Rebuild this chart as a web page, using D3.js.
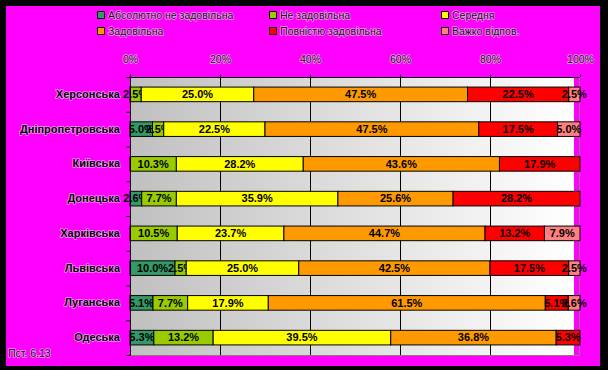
<!DOCTYPE html>
<html>
<head>
<meta charset="utf-8">
<script src="https://cdn.jsdelivr.net/npm/d3@7"></script>
<style>
  body { margin: 0; background: #000; }
  svg { display: block; }
  text { font-family: Arial, "Liberation Sans", sans-serif; }
  .halo { paint-order: stroke; stroke: rgba(255,255,255,0.55); stroke-width: 1.6px; stroke-linejoin: round; }
</style>
</head>
<body>
<div id="chart"></div>
<script>
const regions = ['Херсонська', 'Дніпропетровська', 'Київська', 'Донецька',
  'Харківська', 'Львівська', 'Луганська', 'Одеська'];
const seriesNames = ['Абсолютно не задовільна', 'Не задовільна', 'Середня',
  'Задовільна', 'Повністю задовільна', 'Важко відпов.'];
const seriesColors = ['#339966', '#99cc00', '#ffff00', '#ff9900', '#ff0000', '#ff8080'];

const absNot = [0, 5.0, 0, 2.6, 0, 10.0, 5.1, 5.3];
const notSat = [2.5, 2.5, 10.3, 7.7, 10.5, 2.5, 7.7, 13.2];
const middle = [25.0, 22.5, 28.2, 35.9, 23.7, 25.0, 17.9, 39.5];
const sat = [47.5, 47.5, 43.6, 25.6, 44.7, 42.5, 61.5, 36.8];
const fullSat = [22.5, 17.5, 17.9, 28.2, 13.2, 17.5, 5.1, 5.3];
const hard = [2.5, 5.0, 0, 0, 7.9, 2.5, 2.6, 0];
const tickValues = [0, 0.2, 0.4, 0.6, 0.8, 1];
const note = 'Пст. 6.13';

const allSeries = [absNot, notSat, middle, sat, fullSat, hard];
const rows = regions.map((r, i) => {
  const o = { region: r };
  seriesNames.forEach((k, j) => { o[k] = allSeries[j][i]; });
  return o;
});

const width = 608;
const height = 370;
const plot = { left: 130, right: 580, top: 77, bottom: 355 };

const svg = d3.select('#chart')
  .append('svg')
  .attr('width', width)
  .attr('height', height);

svg.append('rect')
  .attr('x', 6).attr('y', 6)
  .attr('width', 594).attr('height', 360)
  .attr('fill', '#ff00ff');

const grad = svg.append('defs').append('linearGradient')
  .attr('id', 'bg').attr('x1', '0%').attr('x2', '100%');
grad.append('stop').attr('offset', '0%').attr('stop-color', '#c0c0c0');
grad.append('stop').attr('offset', '100%').attr('stop-color', '#ffffff');

const x = d3.scaleLinear()
  .domain([0, 1])
  .range([plot.left, plot.right]);

const y = d3.scaleBand()
  .domain(regions)
  .range([plot.top, plot.bottom])
  .paddingInner(0.58)
  .paddingOuter(0.29);

// plot background
svg.append('rect')
  .attr('x', plot.left).attr('y', plot.top)
  .attr('width', 444).attr('height', plot.bottom - plot.top)
  .attr('fill', 'url(#bg)');

svg.append('path')
  .attr('d', `M${plot.right - 0.5},${plot.top}V${plot.bottom + 0.5}H${plot.left}`)
  .attr('fill', 'none')
  .attr('stroke', '#808080');

// gridlines
svg.append('g')
  .selectAll('line')
  .data(tickValues.slice(1, -1))
  .join('line')
    .attr('x1', d => Math.round(x(d)) + 0.5)
    .attr('x2', d => Math.round(x(d)) + 0.5)
    .attr('y1', plot.top)
    .attr('y2', plot.bottom)
    .attr('stroke', '#000');

const stack = d3.stack()
  .keys(seriesNames)
  .offset(d3.stackOffsetExpand);
const layers = stack(rows);

const bars = svg.append('g')
  .selectAll('g')
  .data(layers)
  .join('g')
    .attr('fill', (d, i) => seriesColors[i]);

bars.selectAll('rect')
  .data(d => d.filter(s => s[1] - s[0] > 0))
  .join('rect')
    .attr('x', d => x(d[0]))
    .attr('y', d => y(d.data.region))
    .attr('width', d => x(d[1]) - x(d[0]))
    .attr('height', y.bandwidth())
    .attr('stroke', '#000')
    .attr('stroke-width', 1);

bars.selectAll('text')
  .data(d => d.filter(s => s[1] - s[0] > 0).map(s => ({ s, key: d.key })))
  .join('text')
    .attr('x', d => x((d.s[0] + d.s[1]) / 2))
    .attr('y', d => y(d.s.data.region) + y.bandwidth() / 2)
    .attr('dy', '0.35em')
    .attr('text-anchor', 'middle')
    .attr('fill', '#000')
    .attr('font-size', 11)
    .attr('font-weight', 'bold')
    .text(d => d.s.data[d.key].toFixed(1) + '%');

// top axis
svg.append('g')
  .attr('transform', `translate(0,${plot.top})`)
  .call(d3.axisTop(x).tickValues(tickValues).tickFormat(d3.format('.0%')).tickSize(3).tickPadding(11))
  .call(g => g.select('.domain').attr('stroke', '#000').attr('d', `M${plot.left},0.5H${plot.right}`))
  .call(g => g.selectAll('.tick line').attr('stroke', '#000'))
  .call(g => g.selectAll('.tick text')
    .attr('class', 'halo')
    .attr('fill', '#111')
    .attr('font-size', 10.5)
    .attr('font-family', 'Arial, "Liberation Sans", sans-serif'));

// left axis ticks between bands
const yIdx = d3.scaleLinear().domain([0, regions.length]).range([plot.top, plot.bottom]);
svg.append('g')
  .attr('transform', `translate(${plot.left},0)`)
  .call(d3.axisLeft(yIdx).tickValues(d3.range(regions.length + 1)).tickFormat('').tickSize(4))
  .call(g => g.selectAll('path, line').attr('stroke', '#000'));

// category labels
svg.append('g')
  .attr('transform', `translate(${plot.left},0)`)
  .call(d3.axisLeft(y).tickSize(0).tickPadding(10))
  .call(g => g.select('.domain').remove())
  .call(g => g.selectAll('text')
    .attr('class', 'halo')
    .attr('fill', '#000')
    .attr('font-size', 11)
    .attr('font-weight', 'bold')
    .attr('font-family', 'Arial, "Liberation Sans", sans-serif'));

// legend
const legendX = [97, 269, 441];
const legendY = [15, 31];
const legend = svg.append('g')
  .selectAll('g')
  .data(seriesNames)
  .join('g')
    .attr('transform', (d, i) => `translate(${legendX[i % 3]},${legendY[Math.floor(i / 3)]})`);

legend.append('rect')
  .attr('x', 0.5).attr('y', -3.5)
  .attr('width', 7).attr('height', 7)
  .attr('fill', (d, i) => seriesColors[i])
  .attr('stroke', '#000');

legend.append('text')
  .attr('class', 'halo')
  .attr('x', 11)
  .attr('dy', '0.35em')
  .attr('font-size', 10.5)
  .attr('fill', '#111')
  .text(d => d);

svg.append('text')
  .attr('class', 'halo')
  .attr('x', 8)
  .attr('y', 353)
  .attr('dy', '0.35em')
  .attr('font-size', 10.5)
  .attr('fill', '#111')
  .text(note);
</script>
</body>
</html>
